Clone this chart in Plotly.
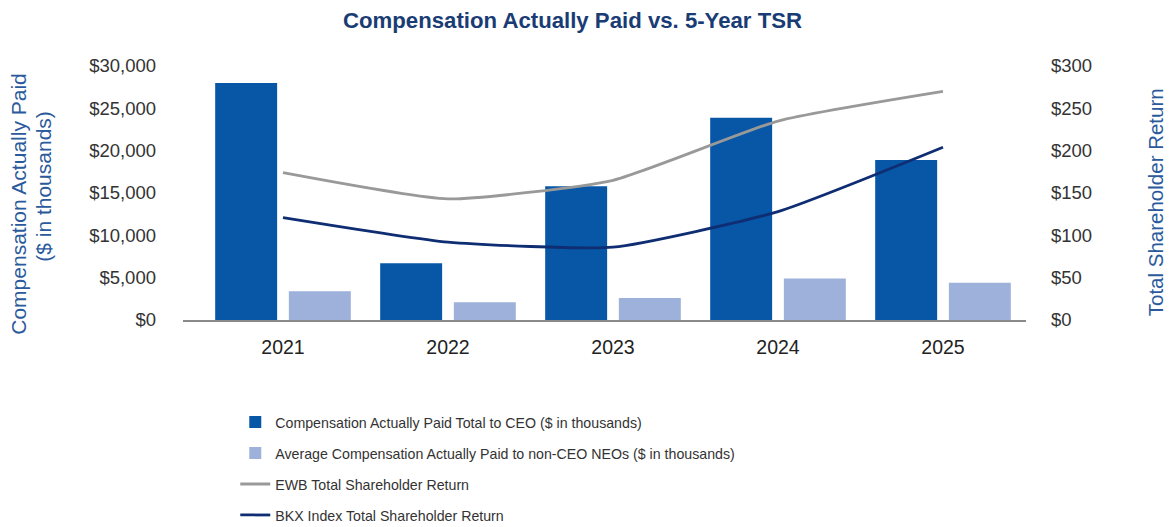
import plotly.graph_objects as go

years = ["2021", "2022", "2023", "2024", "2025"]
ceo_cap = [28000, 6700, 15800, 23900, 18900]
neo_cap = [3400, 2100, 2600, 4900, 4400]
ewb_tsr = [174, 143, 165, 235, 270]
bkx_tsr = [121, 92, 86, 128, 204]

left_ticks = [0, 5000, 10000, 15000, 20000, 25000, 30000]
left_labels = ["$0", "$5,000", "$10,000", "$15,000", "$20,000", "$25,000", "$30,000"]
right_ticks = [0, 50, 100, 150, 200, 250, 300]
right_labels = ["$0", "$50", "$100", "$150", "$200", "$250", "$300"]

FONT = "Liberation Sans, Arial, sans-serif"
AXIS_TITLE_COLOR = "#2b5a9c"

fig = go.Figure()
fig.add_trace(go.Bar(
    x=years, y=ceo_cap, name="Compensation Actually Paid Total to CEO ($ in thousands)",
    marker=dict(color="#0757a6", line=dict(width=0)), legendgroup="a",
))
fig.add_trace(go.Bar(
    x=years, y=neo_cap, name="Average Compensation Actually Paid to non-CEO NEOs ($ in thousands)",
    marker=dict(color="#9eb1da", line=dict(width=0)), legendgroup="b",
))
fig.add_trace(go.Scatter(
    x=years, y=ewb_tsr, name="EWB Total Shareholder Return", yaxis="y2", mode="lines",
    line=dict(color="#999999", width=2.8, shape="spline", smoothing=0.5), legendgroup="c",
))
fig.add_trace(go.Scatter(
    x=years, y=bkx_tsr, name="BKX Index Total Shareholder Return", yaxis="y2", mode="lines",
    line=dict(color="#0f2d72", width=2.8, shape="spline", smoothing=0.5), legendgroup="d",
))

fig.update_layout(
    width=1170, height=527,
    margin=dict(l=183, r=144, t=66, b=206.5, autoexpand=False),
    paper_bgcolor="white", plot_bgcolor="white",
    font=dict(family=FONT, size=17, color="#333333"),
    barmode="group", bargap=0.107, bargroupgap=0.159,
    title=dict(
        text="<b>Compensation Actually Paid vs. 5-Year TSR</b>",
        x=572.5 / 1170, xanchor="center", y=0.962, yanchor="middle",
        font=dict(family=FONT, size=22.2, color="#1a3c74"),
    ),
    xaxis=dict(
        type="category", range=[-0.606, 4.503],
        showline=True, linecolor="#8a8a8a", linewidth=1.5,
        showgrid=False, ticks="", ticklabelstandoff=9,
        tickfont=dict(size=19.5, color="#222222"),
    ),
    yaxis=dict(
        range=[0, 30000], tickvals=left_ticks, ticktext=left_labels,
        showgrid=False, zeroline=False, showline=False, ticks="",
        ticklabelstandoff=26, tickfont=dict(size=18.5, color="#333333"),
    ),
    yaxis2=dict(
        range=[0, 300], tickvals=right_ticks, ticktext=right_labels,
        overlaying="y", side="right",
        showgrid=False, zeroline=False, showline=False, ticks="",
        ticklabelstandoff=24, tickfont=dict(size=18.5, color="#333333"),
    ),
    legend=dict(
        x=0.062, xanchor="left", y=-0.34, yanchor="top",
        orientation="v", tracegroupgap=9.5, traceorder="grouped",
        font=dict(family=FONT, size=14.2, color="#333333"),
        bgcolor="rgba(0,0,0,0)",
    ),
    annotations=[
        dict(
            text="Compensation Actually Paid",
            xref="paper", yref="paper", x=(19 - 183) / 843, y=(320.5 - 204) / 254.5,
            textangle=-90, showarrow=False, xanchor="center", yanchor="middle",
            font=dict(family=FONT, size=21, color=AXIS_TITLE_COLOR),
        ),
        dict(
            text="($ in thousands)",
            xref="paper", yref="paper", x=(44 - 183) / 843, y=(320.5 - 187) / 254.5,
            textangle=-90, showarrow=False, xanchor="center", yanchor="middle",
            font=dict(family=FONT, size=21, color=AXIS_TITLE_COLOR),
        ),
        dict(
            text="Total Shareholder Return",
            xref="paper", yref="paper", x=(1155 - 183) / 843, y=(320.5 - 202.5) / 254.5,
            textangle=-90, showarrow=False, xanchor="center", yanchor="middle",
            font=dict(family=FONT, size=20.5, color=AXIS_TITLE_COLOR),
        ),
    ],
)

fig.write_html("out.html")
